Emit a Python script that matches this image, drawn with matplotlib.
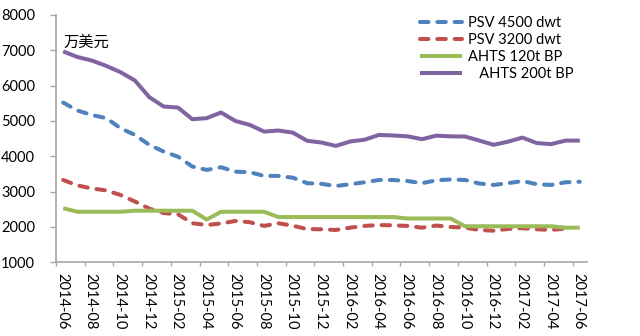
import numpy as np
import matplotlib
matplotlib.use('Agg')
import matplotlib.pyplot as plt
import matplotlib.transforms as mtransforms

plt.rcParams['font.family'] = ['Lato', 'Noto Sans CJK SC', 'DejaVu Sans']

# monthly data, 2014-06 .. 2017-06
months = ['2014-06', '2014-07', '2014-08', '2014-09', '2014-10', '2014-11',
          '2014-12', '2015-01', '2015-02', '2015-03', '2015-04', '2015-05',
          '2015-06', '2015-07', '2015-08', '2015-09', '2015-10', '2015-11',
          '2015-12', '2016-01', '2016-02', '2016-03', '2016-04', '2016-05',
          '2016-06', '2016-07', '2016-08', '2016-09', '2016-10', '2016-11',
          '2016-12', '2017-01', '2017-02', '2017-03', '2017-04', '2017-05',
          '2017-06']

psv_4500 = [5520, 5295, 5170, 5080, 4795, 4605, 4325, 4135, 3990, 3710,
            3615, 3690, 3565, 3550, 3445, 3445, 3395, 3240, 3220, 3160,
            3210, 3265, 3330, 3330, 3300, 3240, 3320, 3345, 3330, 3230,
            3190, 3240, 3300, 3210, 3190, 3265, 3280]

psv_3200 = [3330, 3175, 3090, 3035, 2905, 2720, 2520, 2395, 2360, 2105,
            2055, 2100, 2170, 2135, 2030, 2105, 2035, 1940, 1935, 1915,
            1980, 2030, 2055, 2045, 2030, 1980, 2040, 2000, 1980, 1915,
            1895, 1945, 1965, 1935, 1915, 1955]

ahts_120 = [2530, 2430, 2430, 2430, 2430, 2460, 2460, 2460, 2460, 2460,
            2210, 2430, 2430, 2430, 2430, 2280, 2280, 2280, 2280, 2280,
            2280, 2280, 2280, 2280, 2240, 2240, 2240, 2240, 2020, 2020,
            2020, 2020, 2020, 2020, 2020, 1980, 1980]

ahts_200 = [6970, 6810, 6710, 6560, 6380, 6145, 5675, 5410, 5380, 5050,
            5080, 5240, 5000, 4890, 4700, 4730, 4670, 4440, 4390, 4295,
            4420, 4470, 4605, 4590, 4565, 4485, 4585, 4565, 4560, 4445,
            4325, 4415, 4530, 4375, 4345, 4445, 4445]

series = [
    ('PSV 4500 dwt', psv_4500, '#4F81BD', True),
    ('PSV 3200 dwt', psv_3200, '#C0504D', True),
    ('AHTS 120t BP', ahts_120, '#9BBB59', False),
    ('   AHTS 200t BP', ahts_200, '#8064A2', False),
]

fig = plt.figure(figsize=(6.4, 3.36), dpi=100)
ax = fig.add_axes([56 / 640, 1 - 262.3 / 336, (587 - 56) / 640, (262.3 - 15) / 336])

x = np.arange(len(months)) + 0.5
for label, vals, color, dashed in series:
    xs = x[:len(vals)]
    if dashed:
        ax.plot(xs, vals, color=color, lw=2.9, label=label,
                dashes=(2.1, 2.2), dash_capstyle='round',
                solid_joinstyle='round')
    else:
        ax.plot(xs, vals, color=color, lw=2.9, label=label,
                solid_joinstyle='round', solid_capstyle='butt')

ax.set_xlim(0, len(months))
ax.set_ylim(1000, 8000)
ax.set_yticks(np.arange(1000, 8001, 1000))
ax.set_xticks(np.arange(0, len(months), 2))
ax.set_xticklabels(months[::2], rotation=270, fontsize=10.5)

for s in ['top', 'right']:
    ax.spines[s].set_visible(False)
for s in ['left', 'bottom']:
    ax.spines[s].set_color('#A6A6A6')
    ax.spines[s].set_linewidth(1.2)

ax.tick_params(axis='y', direction='out', length=4, width=1, color='#A6A6A6',
               pad=11, labelsize=10.5)
ax.tick_params(axis='x', direction='out', length=3, width=1, color='#A6A6A6',
               pad=5)

shift = mtransforms.ScaledTranslation(6 / 100, 0, fig.dpi_scale_trans)
for lbl in ax.get_xticklabels():
    lbl.set_transform(lbl.get_transform() + shift)

fig.text(63 / 640, 1 - 42 / 336, '万美元', fontsize=11, va='center',
         family=['Noto Sans CJK SC'])

ax.legend(loc='upper left', bbox_to_anchor=(420 / 640, 1 - 16 / 336),
          bbox_transform=fig.transFigure, frameon=False, fontsize=10.5,
          handlelength=2.9, handletextpad=0.4, labelspacing=0.2,
          borderpad=0, borderaxespad=0)

fig.savefig('out.png', dpi=100)
